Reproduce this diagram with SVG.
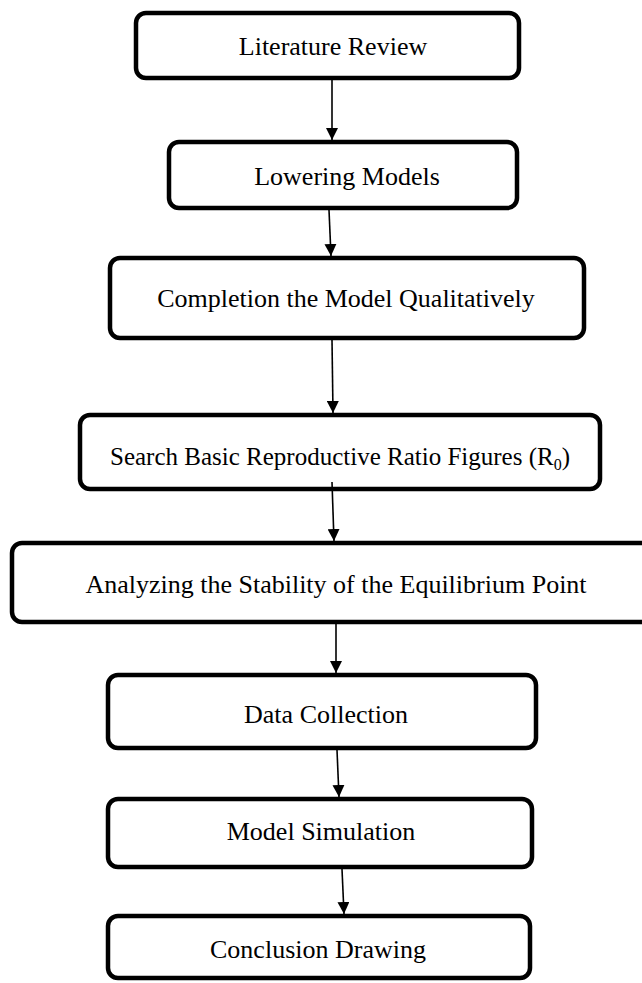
<svg xmlns="http://www.w3.org/2000/svg" width="642" height="983" viewBox="0 0 642 983">
<defs>
<style>
.box{fill:#fff;stroke:#000;stroke-width:4.5}
.lbl{font-family:"Liberation Serif","Times New Roman",serif;font-size:26px;fill:#000;text-anchor:middle}
.sub{font-size:16px}
.conn line{stroke:#000;stroke-width:1.6}
</style>
<marker id="ah" viewBox="0 0 12 12" refX="12" refY="6" markerWidth="12" markerHeight="12" markerUnits="userSpaceOnUse" orient="auto">
<path d="M0,0 L12,6 L0,12 Z" fill="#000"/>
</marker>
</defs>
<rect width="642" height="983" fill="#fff"/>
<g id="n1"><rect class="box" x="136" y="13" width="383" height="65" rx="10"/><text class="lbl" x="333" y="55">Literature Review</text></g>
<g id="n2"><rect class="box" x="169" y="142" width="348" height="66" rx="10"/><text class="lbl" x="347" y="185">Lowering Models</text></g>
<g id="n3"><rect class="box" x="110" y="258" width="474" height="80" rx="10"/><text class="lbl" x="346" y="307">Completion the Model Qualitatively</text></g>
<g id="n4"><rect class="box" x="80" y="415" width="520" height="74" rx="10"/><text class="lbl" x="340" y="465" style="font-size:25px">Search Basic Reproductive Ratio Figures (R<tspan class="sub" dy="5">0</tspan><tspan dy="-5">)</tspan></text></g>
<g id="n5"><rect class="box" x="12" y="543" width="650" height="79" rx="10"/><text class="lbl" x="336" y="593">Analyzing the Stability of the Equilibrium Point</text></g>
<g id="n6"><rect class="box" x="108" y="675" width="428" height="73" rx="10"/><text class="lbl" x="326" y="723">Data Collection</text></g>
<g id="n7"><rect class="box" x="108" y="799" width="424" height="68" rx="10"/><text class="lbl" x="321" y="840">Model Simulation</text></g>
<g id="n8"><rect class="box" x="108" y="916" width="422" height="62" rx="10"/><text class="lbl" x="318" y="958">Conclusion Drawing</text></g>
<g id="connectors" class="conn">
<line x1="332" y1="80" x2="332" y2="140" marker-end="url(#ah)"/>
<line x1="329" y1="210" x2="331" y2="256" marker-end="url(#ah)"/>
<line x1="332" y1="340" x2="333" y2="413" marker-end="url(#ah)"/>
<line x1="332" y1="482" x2="334" y2="541" marker-end="url(#ah)"/>
<line x1="336" y1="620" x2="336" y2="673" marker-end="url(#ah)"/>
<line x1="337" y1="750" x2="339" y2="797" marker-end="url(#ah)"/>
<line x1="342" y1="869" x2="344" y2="914" marker-end="url(#ah)"/>
</g>
</svg>
